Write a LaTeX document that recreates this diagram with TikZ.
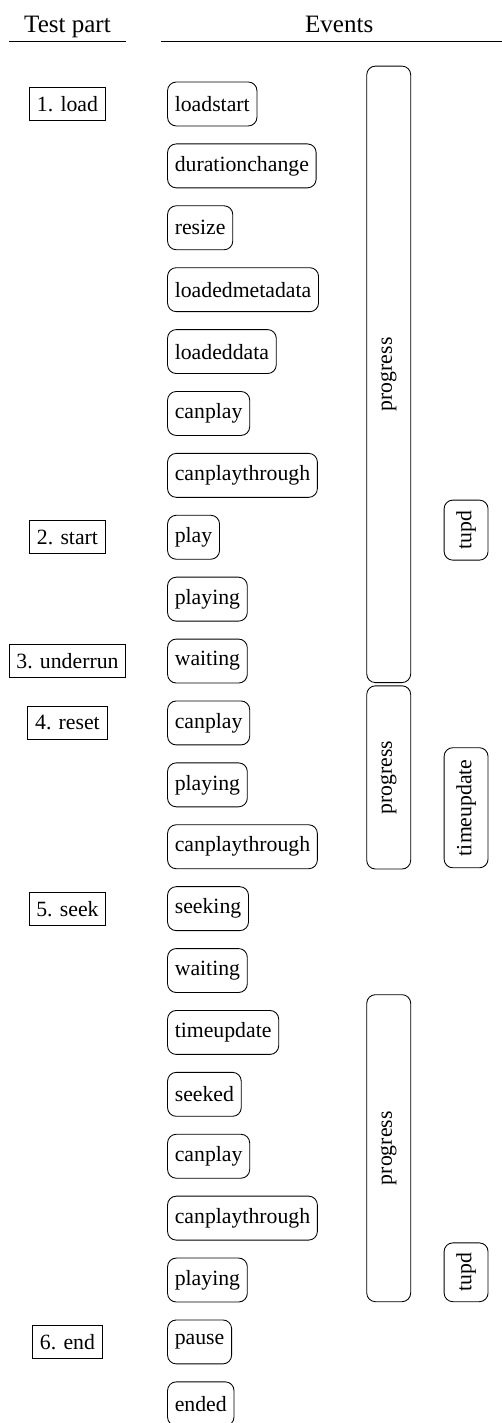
\documentclass[tikz,border=0pt]{standalone}
\usepackage{fontspec}
\setmainfont{Liberation Serif}

\begin{document}
\begin{tikzpicture}[thin,
        part/.style={draw, minimum height=0.53cm},
        event/.style={draw, rounded corners, anchor=west, minimum height=0.71cm},
        span/.style={draw, rounded corners, rotate=90, minimum height=0.71cm},
        hdr/.style={anchor=base, font=\fontsize{11.5}{14}\selectfont}]
        \useasboundingbox (0,0) rectangle (8.11,-22.99);

        \node[hdr] (parthdr) at (1.09,-0.53) {Test part};
        \node[hdr] (eventhdr) at (5.48,-0.53) {Events};
        \draw (0.15,-0.674) -- (2.03,-0.674);
        \draw (2.6,-0.674) -- (8.11,-0.674);

        \node[part] (load) at (1.09,-1.68) {1. load};
        \node[part] (start) at (1.09,-8.68) {2. start};
        \node[part] (underrun) at (1.09,-10.68) {3. underrun};
        \node[part] (reset) at (1.09,-11.68) {4. reset};
        \node[part] (seek) at (1.09,-14.68) {5. seek};
        \node[part] (end) at (1.09,-21.68) {6. end};

        \node[event] (loadstart) at (2.7,-1.68) {loadstart};
        \node[event] (durchange) at (2.7,-2.68) {durationchange};
        \node[event] (resize) at (2.7,-3.68) {resize};
        \node[event] (loadedmeta) at (2.7,-4.68) {loadedmetadata};
        \node[event] (loadeddata) at (2.7,-5.68) {loadeddata};
        \node[event] (canplay1) at (2.7,-6.68) {canplay};
        \node[event] (canthrough1) at (2.7,-7.68) {canplaythrough};
        \node[event] (play) at (2.7,-8.68) {play};
        \node[event] (playing1) at (2.7,-9.68) {playing};
        \node[event] (waiting1) at (2.7,-10.68) {waiting};
        \node[event] (canplay2) at (2.7,-11.68) {canplay};
        \node[event] (playing2) at (2.7,-12.68) {playing};
        \node[event] (canthrough2) at (2.7,-13.68) {canplaythrough};
        \node[event] (seeking) at (2.7,-14.68) {seeking};
        \node[event] (waiting2) at (2.7,-15.68) {waiting};
        \node[event] (timeupd) at (2.7,-16.68) {timeupdate};
        \node[event] (seeked) at (2.7,-17.68) {seeked};
        \node[event] (canplay3) at (2.7,-18.68) {canplay};
        \node[event] (canthrough3) at (2.7,-19.68) {canplaythrough};
        \node[event] (playing3) at (2.7,-20.68) {playing};
        \node[event] (pause) at (2.7,-21.68) {pause};
        \node[event] (ended) at (2.7,-22.68) {ended};

        \node[span, minimum width=9.96cm] (prog1) at (6.28,-6.048) {progress};
        \node[span, minimum width=2.96cm] (prog2) at (6.28,-12.56) {progress};
        \node[span, minimum width=4.96cm] (prog3) at (6.28,-18.55) {progress};
        \node[span, minimum width=0.97cm] (tupd1) at (7.53,-8.565) {tupd};
        \node[span, minimum width=1.94cm] (tupd2) at (7.53,-13.05) {timeupdate};
        \node[span, minimum width=0.95cm] (tupd3) at (7.53,-20.555) {tupd};
\end{tikzpicture}
\end{document}
